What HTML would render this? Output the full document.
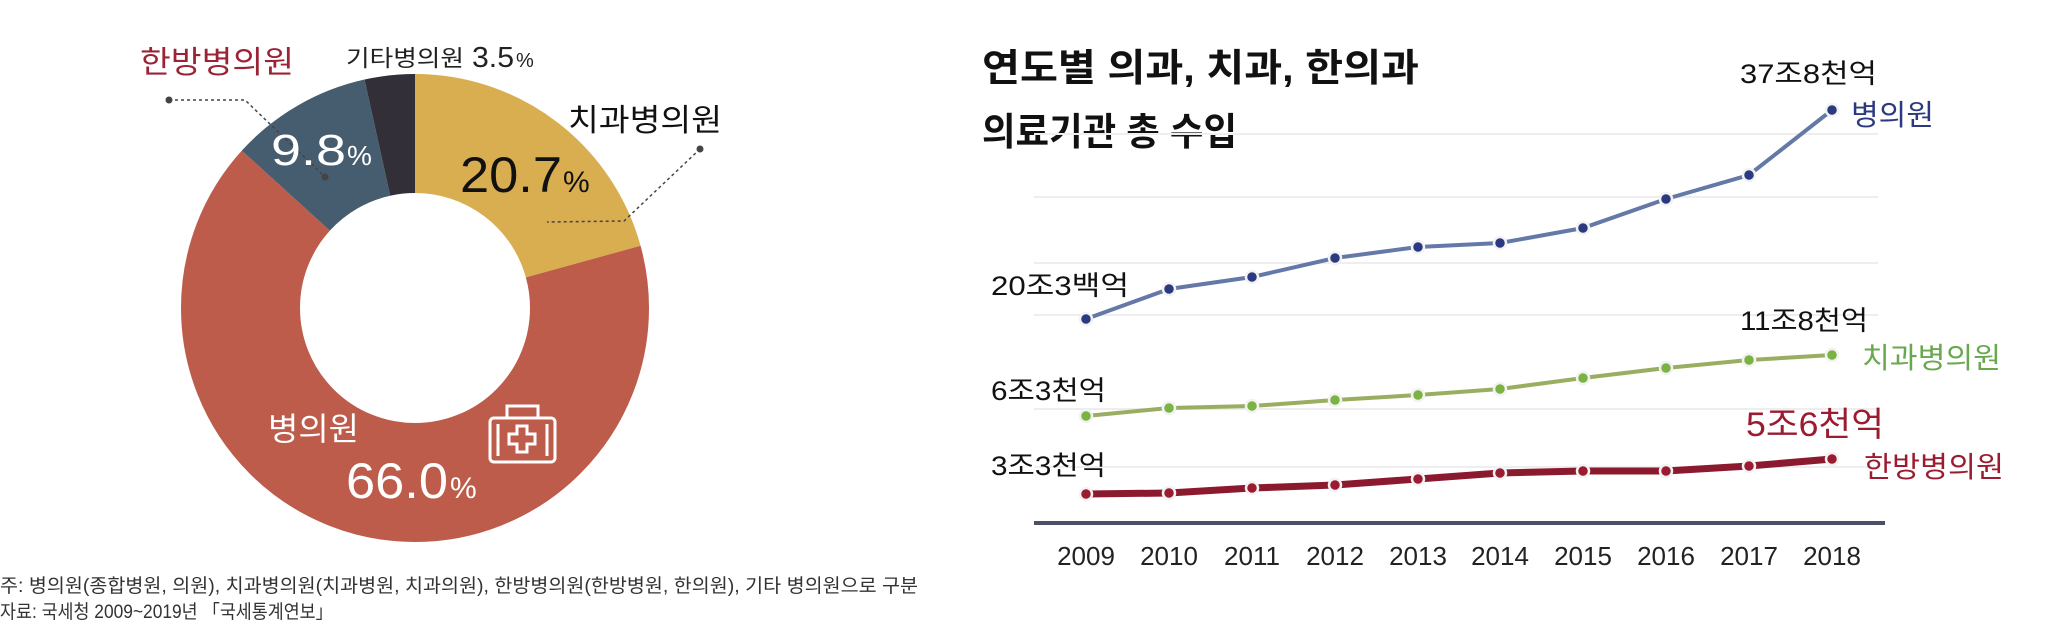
<!DOCTYPE html>
<html><head><meta charset="utf-8"><style>
html,body{margin:0;padding:0;background:#fff;}
svg{display:block;font-family:"Liberation Sans","Noto Sans CJK KR",sans-serif;}
</style></head><body>
<svg width="2048" height="634" viewBox="0 0 2048 634" xmlns="http://www.w3.org/2000/svg">
<rect width="2048" height="634" fill="#fff"/>
<!-- donut -->
<g transform="rotate(-90 415 308)" fill="none" stroke-width="119">
<circle cx="415" cy="308" r="174.5" stroke="#d9ae51" stroke-dasharray="227 2000" stroke-dashoffset="0"/>
<circle cx="415" cy="308" r="174.5" stroke="#bd5c4a" stroke-dasharray="723.6 2000" stroke-dashoffset="-227"/>
<circle cx="415" cy="308" r="174.5" stroke="#465d70" stroke-dasharray="107.4 2000" stroke-dashoffset="-950.6"/>
<circle cx="415" cy="308" r="174.5" stroke="#322f38" stroke-dasharray="38.4 2000" stroke-dashoffset="-1058"/>
</g>
<!-- leaders -->
<g stroke="#444" stroke-width="1.5" stroke-dasharray="3 3" fill="none">
<polyline points="169,100 245,100 325,177"/>
<polyline points="700,149 624,221 547,222"/>
</g>
<circle cx="169" cy="100" r="3.5" fill="#444"/><circle cx="325" cy="177" r="3.5" fill="#444"/><circle cx="700" cy="149" r="3.5" fill="#444"/>
<!-- donut labels -->
<text x="140" y="73" font-size="31" fill="#9b2335" textLength="154" lengthAdjust="spacingAndGlyphs">한방병의원</text>
<text x="346" y="66" font-size="23" fill="#222" textLength="118" lengthAdjust="spacingAndGlyphs">기타병의원</text>
<text x="472" y="67" font-size="29" fill="#222" textLength="42" lengthAdjust="spacingAndGlyphs">3.5</text>
<text x="516" y="67" font-size="20" fill="#222">%</text>
<text x="568" y="131" font-size="31" fill="#111" textLength="154" lengthAdjust="spacingAndGlyphs">치과병의원</text>
<text x="271" y="165" font-size="44" fill="#fff" textLength="75" lengthAdjust="spacingAndGlyphs">9.8</text>
<text x="347" y="165" font-size="28" fill="#fff">%</text>
<text x="460" y="192" font-size="50" fill="#111" textLength="102" lengthAdjust="spacingAndGlyphs">20.7</text>
<text x="563" y="192" font-size="30" fill="#111">%</text>
<text x="268" y="440" font-size="32" fill="#fff" textLength="91" lengthAdjust="spacingAndGlyphs">병의원</text>
<text x="346" y="498" font-size="50" fill="#fff" textLength="102" lengthAdjust="spacingAndGlyphs">66.0</text>
<text x="450" y="498" font-size="30" fill="#fff">%</text>
<!-- kit icon -->
<g fill="none" stroke="#fff" stroke-width="3">
<rect x="490" y="418" width="65" height="44" rx="4"/>
<path d="M507 418 V406 H538 V418"/>
<line x1="498" y1="424" x2="498" y2="456"/><line x1="547" y1="424" x2="547" y2="456"/>
<path d="M517 426 h10 v8 h8 v10 h-8 v8 h-10 v-8 h-8 v-10 h8 z"/>
</g>
<!-- footnote -->
<text x="0" y="592" font-size="19" fill="#333" textLength="918" lengthAdjust="spacingAndGlyphs">주: 병의원(종합병원, 의원), 치과병의원(치과병원, 치과의원), 한방병의원(한방병원, 한의원), 기타 병의원으로 구분</text>
<text x="0" y="618" font-size="19" fill="#333" textLength="333" lengthAdjust="spacingAndGlyphs">자료: 국세청 2009~2019년 「국세통계연보」</text>
<!-- right chart -->
<text x="982" y="81" font-size="38" font-weight="bold" fill="#111" textLength="437" lengthAdjust="spacingAndGlyphs">연도별 의과,  치과, 한의과</text>
<text x="982" y="145" font-size="38" font-weight="bold" fill="#111" textLength="255" lengthAdjust="spacingAndGlyphs">의료기관 총 수입</text>
<g stroke="#eee" stroke-width="2">
<line x1="1034" y1="134" x2="1878" y2="134"/><line x1="1034" y1="197" x2="1878" y2="197"/>
<line x1="1034" y1="263" x2="1878" y2="263"/><line x1="1034" y1="315" x2="1878" y2="315"/>
<line x1="1034" y1="409" x2="1878" y2="409"/><line x1="1034" y1="467" x2="1878" y2="467"/>
</g>
<line x1="1034" y1="523" x2="1885" y2="523" stroke="#4a5068" stroke-width="4"/>
<g font-size="26" fill="#222" text-anchor="middle">
<text x="1086" y="565">2009</text><text x="1169" y="565">2010</text><text x="1252" y="565">2011</text><text x="1335" y="565">2012</text><text x="1418" y="565">2013</text><text x="1500" y="565">2014</text><text x="1583" y="565">2015</text><text x="1666" y="565">2016</text><text x="1749" y="565">2017</text><text x="1832" y="565">2018</text>
</g>
<polyline fill="none" stroke="#6479a8" stroke-width="4" points="1086,319 1169,289 1252,277 1335,258 1418,247 1500,243 1583,228 1666,199 1749,175 1832,110"/>
<polyline fill="none" stroke="#9aae62" stroke-width="4" points="1086,416 1169,408 1252,406 1335,400 1418,395 1500,389 1583,378 1666,368 1749,360 1832,355"/>
<polyline fill="none" stroke="#8b1a2e" stroke-width="7" points="1086,494 1169,493 1252,488 1335,485 1418,479 1500,473 1583,471 1666,471 1749,466 1832,459"/>
<g stroke="#f2f2f2" stroke-width="2.5">
<g fill="#2b3a80"><circle cx="1086" cy="319" r="6"/><circle cx="1169" cy="289" r="6"/><circle cx="1252" cy="277" r="6"/><circle cx="1335" cy="258" r="6"/><circle cx="1418" cy="247" r="6"/><circle cx="1500" cy="243" r="6"/><circle cx="1583" cy="228" r="6"/><circle cx="1666" cy="199" r="6"/><circle cx="1749" cy="175" r="6"/><circle cx="1832" cy="110" r="6"/></g>
<g fill="#7ab342"><circle cx="1086" cy="416" r="6"/><circle cx="1169" cy="408" r="6"/><circle cx="1252" cy="406" r="6"/><circle cx="1335" cy="400" r="6"/><circle cx="1418" cy="395" r="6"/><circle cx="1500" cy="389" r="6"/><circle cx="1583" cy="378" r="6"/><circle cx="1666" cy="368" r="6"/><circle cx="1749" cy="360" r="6"/><circle cx="1832" cy="355" r="6"/></g>
<g fill="#9b1b30"><circle cx="1086" cy="494" r="6"/><circle cx="1169" cy="493" r="6"/><circle cx="1252" cy="488" r="6"/><circle cx="1335" cy="485" r="6"/><circle cx="1418" cy="479" r="6"/><circle cx="1500" cy="473" r="6"/><circle cx="1583" cy="471" r="6"/><circle cx="1666" cy="471" r="6"/><circle cx="1749" cy="466" r="6"/><circle cx="1832" cy="459" r="6"/></g>
</g>
<g font-size="27" fill="#111">
<text x="991" y="295" textLength="138" lengthAdjust="spacingAndGlyphs">20조3백억</text>
<text x="991" y="400" textLength="115" lengthAdjust="spacingAndGlyphs">6조3천억</text>
<text x="991" y="475" textLength="115" lengthAdjust="spacingAndGlyphs">3조3천억</text>
<text x="1740" y="83" textLength="137" lengthAdjust="spacingAndGlyphs">37조8천억</text>
<text x="1740" y="330" textLength="128" lengthAdjust="spacingAndGlyphs">11조8천억</text>
</g>
<text x="1746" y="436" font-size="34" fill="#9b1b30" textLength="138" lengthAdjust="spacingAndGlyphs">5조6천억</text>
<text x="1851" y="125" font-size="29" fill="#2b3a80" textLength="83" lengthAdjust="spacingAndGlyphs">병의원</text>
<text x="1862" y="368" font-size="29" fill="#6aa84f" textLength="139" lengthAdjust="spacingAndGlyphs">치과병의원</text>
<text x="1864" y="477" font-size="29" fill="#9b1b30" textLength="140" lengthAdjust="spacingAndGlyphs">한방병의원</text>
</svg>
</body></html>
